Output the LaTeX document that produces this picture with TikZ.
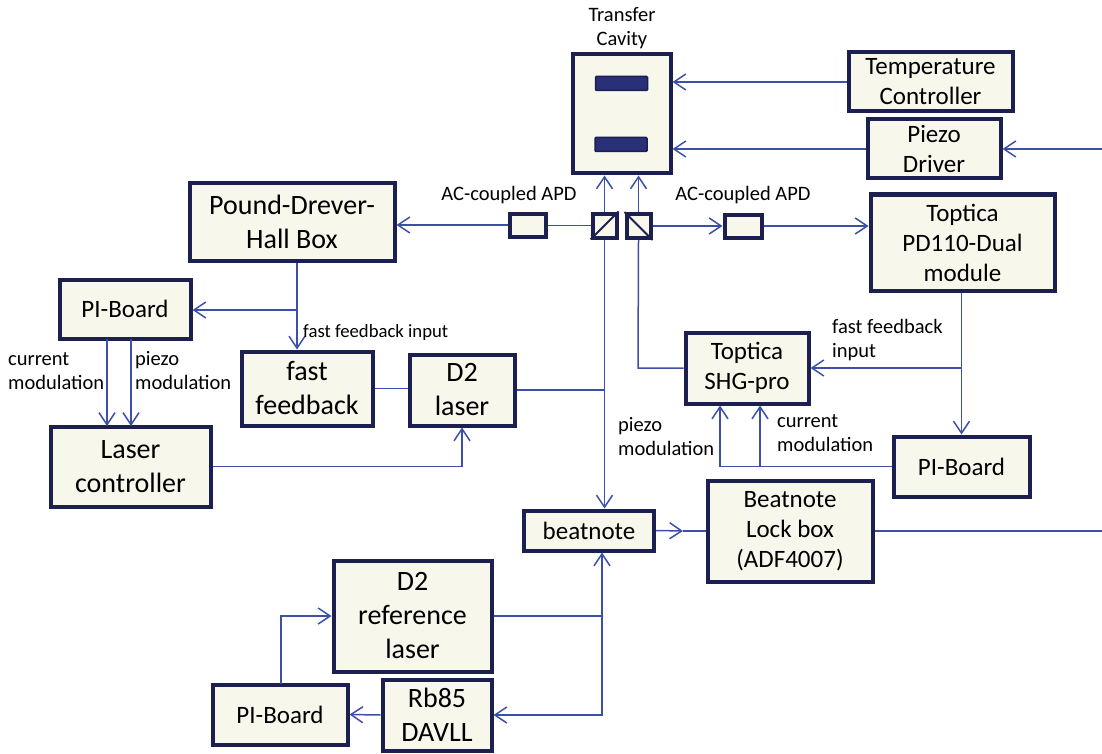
\documentclass[tikz,border=0pt]{standalone}
\usepackage{fontspec}
\setmainfont{Carlito}
\usetikzlibrary{arrows.meta}
\definecolor{boxline}{HTML}{1B2050}
\definecolor{boxfill}{HTML}{F7F7EC}
\definecolor{wire}{HTML}{3C50A8}
\definecolor{mirrorfill}{HTML}{2A3078}
\newcommand*{\bigfont}{\fontsize{28}{34}\selectfont}
\newcommand*{\midfont}{\fontsize{25}{30}\selectfont}
\newcommand*{\smallfont}{\fontsize{20.5}{24}\selectfont}

\begin{document}
\begin{tikzpicture}
[
	x=1pt,y=-1pt,
	blockbox/.style={draw=boxline,fill=boxfill,line width=4pt,inner sep=0pt,outer sep=2pt,align=center,font=\midfont},
	mirrorbox/.style={draw=boxline,fill=mirrorfill,line width=1.5pt,rounded corners=1pt,inner sep=0pt,minimum width=52pt,minimum height=14pt},
	wirelink/.style={draw=wire,line width=1.5pt},
	wirearrow/.style={wirelink,-{Straight Barb[length=12pt,width=16pt,line width=1.5pt]}},
	caption/.style={inner sep=0pt,align=left,font=\smallfont}
]
	\useasboundingbox (0,0) rectangle (1102,754);

	% cavity and the boxes right of it
	\node[blockbox,minimum width=98pt,minimum height=119pt] (cavity) at (621.5,114) {};
	\node[mirrorbox] (mirrortop) at (621.5,83.5) {};
	\node[mirrorbox] (mirrorbot) at (621,144.5) {};
	\node[blockbox,minimum width=164pt,minimum height=59pt] (tempctl) at (930.5,82) {Temperature\\Controller};
	\node[blockbox,minimum width=133pt,minimum height=59pt] (piezodrv) at (934,149) {Piezo\\Driver};
	\node[blockbox,minimum width=184pt,minimum height=96pt] (pd110) at (962.5,242.5) {Toptica\\PD110-Dual\\module};

	% beam splitters and detectors
	\node[blockbox,minimum width=24pt,minimum height=24pt] (splitl) at (604.5,225.5) {};
	\node[blockbox,minimum width=24pt,minimum height=24pt] (splitr) at (638.5,226) {};
	\draw[boxline,line width=1.8pt] (splitl.south west) -- (splitl.north east);
	\draw[boxline,line width=1.8pt] (splitr.north west) -- (splitr.south east);
	\node[blockbox,minimum width=36pt,minimum height=23pt] (apdl) at (527.5,225) {};
	\node[blockbox,minimum width=37pt,minimum height=23pt] (apdr) at (743,226) {};

	% left side
	\node[blockbox,minimum width=205pt,minimum height=77pt,font=\bigfont] (pdh) at (292,222) {Pound-Drever-\\Hall Box};
	\node[blockbox,minimum width=131pt,minimum height=59pt] (pileft) at (125,309) {PI-Board};
	\node[blockbox,minimum width=131pt,minimum height=74pt,font=\bigfont] (fastfb) at (307,388.5) {fast\\feedback};
	\node[blockbox,minimum width=105pt,minimum height=71pt,font=\bigfont] (dlaser) at (462,390) {D2\\laser};
	\node[blockbox,minimum width=160pt,minimum height=80pt,font=\bigfont] (laserctl) at (130.5,466.5) {Laser\\controller};

	% middle and right
	\node[blockbox,minimum width=123pt,minimum height=71pt] (shg) at (747,368) {Toptica\\SHG-pro};
	\node[blockbox,minimum width=136pt,minimum height=60pt] (piright) at (961.5,466.5) {PI-Board};
	\node[blockbox,minimum width=165pt,minimum height=101pt] (lockbox) at (790,531) {Beatnote\\Lock box\\(ADF4007)};
	\node[blockbox,minimum width=130pt,minimum height=40pt] (beat) at (589,530.5) {beatnote};

	% bottom
	\node[blockbox,minimum width=158pt,minimum height=111pt,font=\bigfont] (dref) at (412.5,616) {D2\\reference\\laser};
	\node[blockbox,minimum width=109pt,minimum height=71pt,font=\bigfont] (davll) at (437,715) {Rb85\\DAVLL};
	\node[blockbox,minimum width=135pt,minimum height=60pt] (pibot) at (280,714.5) {PI-Board};

	% free ends and corners
	\coordinate (rightpiezo) at (1102,149);
	\coordinate (rightlock) at (1102,531);
	\coordinate (beatmid) at (683,531);
	\coordinate (refjoin) at (602,616);
	\coordinate (shgleft) at (638,368);
	\coordinate (pdhout) at (297,310);
	\coordinate (pdbranch) at (961.5,368);
	\coordinate (pzarrow) at (720,466.5);
	\coordinate (curarrow) at (760,466.5);
	\coordinate (refpi) at (281,684);

	% top connectors
	\draw[wirearrow] (tempctl.west) -- (tempctl.west -| cavity.east);
	\draw[wirearrow] (piezodrv.west) -- (piezodrv.west -| cavity.east);
	\draw[wirearrow] (rightpiezo) -- (piezodrv.east);
	\draw[wirearrow] (splitl.north) -- (splitl.north |- cavity.south);
	\draw[wirearrow] (splitr.north) -- (splitr.north |- cavity.south);
	\draw[wirelink] (splitl.west) -- (splitl.west -| apdl.east);
	\draw[wirearrow] (apdl.west) -- (apdl.west -| pdh.east);
	\draw[wirearrow] (splitr.east) -- (apdr.west);
	\draw[wirearrow] (apdr.east) -- (apdr.east -| pd110.west);

	% laser lock on the left
	\draw[wirearrow] (pdhout |- pdh.south) -- (pdhout |- fastfb.north);
	\draw[wirearrow] (pdhout) -- (pdhout -| pileft.east);
	\draw[wirearrow] (107,339) -- (107,426);
	\draw[wirearrow] (131,339) -- (131,426);
	\draw[wirelink] (fastfb.east) -- (fastfb.east -| dlaser.west);
	\draw[wirelink] (dlaser.east) -- (dlaser.east -| splitl.south);
	\draw[wirearrow] (laserctl.east) -| (dlaser.south);
	\draw[wirearrow] (splitl.south) -- (splitl.south |- beat.north);

	% second harmonic path
	\draw[wirelink] (shg.west) -- (shgleft) -- (splitr.south);
	\draw[wirearrow] (pd110.south -| piright.north) -- (piright.north);
	\draw[wirearrow] (pdbranch) -- (shg.east);
	\draw[wirearrow] (piright.west) -- (pzarrow) -- (pzarrow |- shg.south);
	\draw[wirearrow] (curarrow) -- (curarrow |- shg.south);

	% beatnote and reference
	\draw[wirearrow] (beat.east) -- (beatmid);
	\draw[wirelink] (beatmid) -- (lockbox.west);
	\draw[wirelink] (lockbox.east) -- (rightlock);
	\draw[wirelink] (dref.east) -- (refjoin);
	\draw[wirearrow] (refjoin) -- (refjoin |- beat.south);
	\draw[wirearrow] (refjoin) |- (davll.east);
	\draw[wirearrow] (davll.west) -- (pibot.east);
	\draw[wirearrow] (refpi) |- (dref.west);

	% labels
	\node[caption,align=center] (labcavity) at (622,28) {Transfer\\Cavity};
	\node[caption] (labapdl) at (509,195) {AC-coupled APD};
	\node[caption] (labapdr) at (743,195) {AC-coupled APD};
	\node[caption,anchor=west,font=\fontsize{18.7}{24}\selectfont] (labfastl) at (303,333) {fast feedback input};
	\node[caption,anchor=west] (labcurl) at (8,371) {current\\modulation};
	\node[caption,anchor=west] (labpzl) at (135,371) {piezo\\modulation};
	\node[caption,anchor=west] (labfastr) at (832,340) {fast feedback\\input};
	\node[caption,anchor=west] (labpzr) at (618,437) {piezo\\modulation};
	\node[caption,anchor=west] (labcurr) at (777,433) {current\\modulation};

\end{tikzpicture}
\end{document}
